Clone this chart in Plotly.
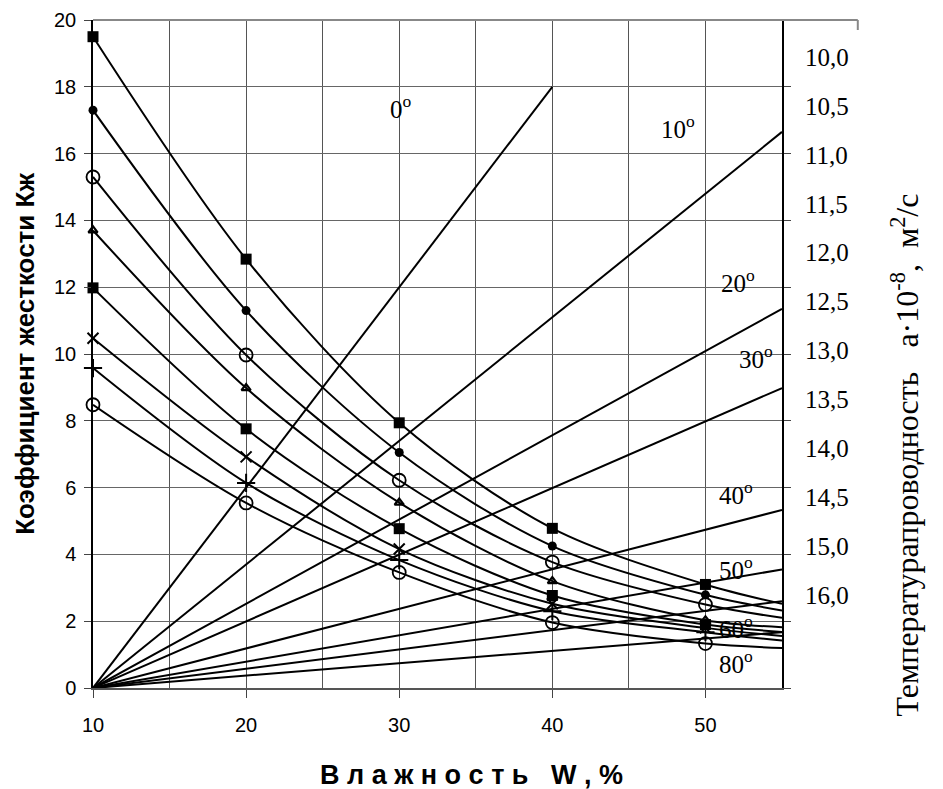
import plotly.graph_objects as go

# ---------------- data ----------------
moisture = [10, 20, 30, 40, 50]          # W, %
x_edge = 55                              # right end of the curves

# stiffness coefficient curves (values at W = 10..50, then value at right edge)
k1 = [19.5, 12.84, 7.94, 4.78, 3.10]; k1_end = 2.52
k2 = [17.3, 11.30, 7.05, 4.25, 2.79]; k2_end = 2.32
k3 = [15.3, 9.97, 6.22, 3.77, 2.50];  k3_end = 2.10
k4 = [13.7, 8.98, 5.55, 3.20, 2.03];  k4_end = 1.82
k5 = [11.98, 7.76, 4.77, 2.77, 1.90]; k5_end = 1.68
k6 = [10.47, 6.92, 4.16, 2.52, 1.80]; k6_end = 1.56
k7 = [9.58, 6.14, 3.83, 2.30, 1.67];  k7_end = 1.42
k8 = [8.48, 5.54, 3.46, 1.96, 1.33];  k8_end = 1.20

# temperature rays from (10, 0)
ray_labels = ["0", "10", "20", "30", "40", "50", "60", "80"]
ray_end_x = [40, 55, 55, 55, 55, 55, 55, 55]
ray_end_y = [18.0, 16.65, 11.35, 8.98, 5.33, 3.55, 2.60, 1.67]
ray_label_x = [30.1, 48.2, 52.1, 53.3, 52.0, 52.0, 52.0, 52.0]
ray_label_y = [17.4, 16.8, 12.2, 9.9, 5.84, 3.59, 1.83, 0.78]

right_labels = ["10,0", "10,5", "11,0", "11,5", "12,0", "12,5", "13,0",
                "13,5", "14,0", "14,5", "15,0", "16,0"]

x_ticks = [10, 20, 30, 40, 50]

sans = "Liberation Sans, Arial, sans-serif"
serif = "Liberation Serif, Times New Roman, serif"

# ---------------- figure ----------------
fig = go.Figure()

# rays
for lab, xe, ye in zip(ray_labels, ray_end_x, ray_end_y):
    fig.add_trace(go.Scatter(x=[10, xe], y=[0, ye], mode="lines",
                             line=dict(color="black", width=2),
                             showlegend=False, hoverinfo="skip"))

series = [
    (k1, k1_end, dict(symbol="square", size=11, color="black")),
    (k2, k2_end, dict(symbol="circle", size=9, color="black")),
    (k3, k3_end, dict(symbol="circle-open", size=13, color="black", line=dict(width=1.8))),
    (k4, k4_end, dict(symbol="triangle-up-open", size=8, color="black", line=dict(width=2.2))),
    (k5, k5_end, dict(symbol="square", size=11, color="black")),
    (k6, k6_end, dict(symbol="x-thin-open", size=11, color="black", line=dict(width=2))),
    (k7, k7_end, dict(symbol="cross-thin-open", size=13, color="black", line=dict(width=2))),
    (k8, k8_end, dict(symbol="circle-open", size=13, color="black", line=dict(width=1.8))),
]
for vals, end, mk in series:
    fig.add_trace(go.Scatter(x=moisture + [x_edge], y=vals + [end], mode="lines",
                             line=dict(color="black", width=2, shape="spline", smoothing=0.9),
                             showlegend=False, hoverinfo="skip"))
    fig.add_trace(go.Scatter(x=moisture, y=vals, mode="markers", marker=mk,
                             showlegend=False, hoverinfo="skip", cliponaxis=False))

# dummy trace to carry the right axis
fig.add_trace(go.Scatter(x=[10], y=[0], yaxis="y2", mode="markers",
                         marker=dict(opacity=0), showlegend=False, hoverinfo="skip"))

# ray labels
for lab, lx, ly in zip(ray_labels, ray_label_x, ray_label_y):
    fig.add_annotation(x=lx, y=ly, text=lab + "<sup>o</sup>", showarrow=False,
                       font=dict(family=serif, size=25, color="black"))

fig.update_layout(
    width=943, height=789,
    margin=dict(l=93, r=161, t=20, b=101),
    paper_bgcolor="white", plot_bgcolor="white",
    xaxis=dict(range=[10, 55], tickvals=x_ticks, ticks="outside", ticklen=8,
               tickcolor="#444", tickfont=dict(family=sans, size=20, color="black"),
               ticklabelstandoff=10,
               showgrid=True, gridcolor="#555", gridwidth=1,
               minor=dict(dtick=5, tick0=10, showgrid=True, gridcolor="#555", gridwidth=1),
               showline=True, linecolor="#555", linewidth=2, zeroline=False,
               automargin=False),
    yaxis=dict(range=[0, 20], dtick=2, ticks="outside", ticklen=7, tickcolor="#444",
               tickfont=dict(family=sans, size=20, color="black"),
               ticklabelstandoff=4,
               showgrid=True, gridcolor="#666", gridwidth=1,
               showline=True, linecolor="black", linewidth=1.5, mirror="ticks",
               zeroline=False, automargin=False),
    yaxis2=dict(overlaying="y", side="right", range=[12.9, -0.757],
                tickvals=list(range(len(right_labels))), ticktext=right_labels,
                ticks="", showgrid=False, zeroline=False, showline=False,
                tickfont=dict(family=serif, size=25, color="black"),
                ticklabelstandoff=22, automargin=False),
)

# left axis title
fig.add_annotation(xref="paper", yref="paper", x=-0.099, y=0.5, textangle=-90,
                   xanchor="center", yanchor="middle",
                   text="<b>Коэффициент жесткости Кж</b>", showarrow=False,
                   font=dict(family=sans, size=26, color="black"))
# x-axis title (letter-spaced)
fig.add_annotation(xref="paper", yref="paper", x=0.55, y=-0.13,
                   xanchor="center", yanchor="middle",
                   text="<b>В л а ж н о с т ь &nbsp; W , %</b>", showarrow=False,
                   font=dict(family=sans, size=27, color="black"))
# right axis title
fig.add_annotation(xref="paper", yref="paper", x=1.178, y=0.349, textangle=-90,
                   xanchor="center", yanchor="middle",
                   text="Температурапроводность&nbsp;&nbsp; a·10<sup>-8</sup>, &nbsp;м<sup>2</sup>/с",
                   showarrow=False, font=dict(family=serif, size=32, color="black"))

# top frame line extending to the right with a small end tick
fig.add_shape(type="line", xref="paper", yref="paper", x0=0, x1=1.110, y0=1, y1=1,
              line=dict(color="#888", width=2))
fig.add_shape(type="line", xref="paper", yref="paper", x0=1.110, x1=1.110, y0=1, y1=0.985,
              line=dict(color="#888", width=2))

fig.write_html("out.html", config={"displayModeBar": False},
               post_script="document.body.style.margin='0';")
